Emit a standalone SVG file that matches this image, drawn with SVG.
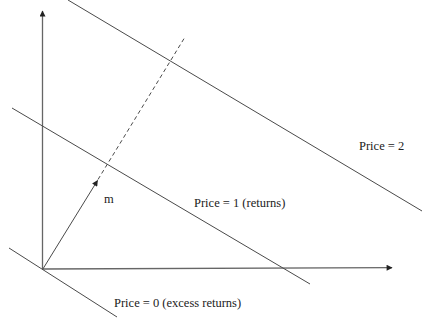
<svg xmlns="http://www.w3.org/2000/svg" width="422" height="326" viewBox="0 0 422 326">
<defs>
<style>
.ln{stroke:#4a4a4a;stroke-width:1;fill:none}
.ax{stroke:#666;stroke-width:1.3;fill:none}
.ds{stroke:#4a4a4a;stroke-width:1;fill:none;stroke-dasharray:4,3}
.tx{font-family:'Liberation Serif',serif;font-size:12.5px;fill:#222}
</style>
<marker id="ah" viewBox="0 0 10 10" refX="9" refY="5" markerWidth="7" markerHeight="6" markerUnits="userSpaceOnUse" orient="auto">
<path d="M0,0 L10,5 L0,10 z" fill="#222"/>
</marker>
</defs>
<rect width="422" height="326" fill="#fff"/>
<g id="axes">
<line class="ax" x1="42.5" y1="269" x2="42.5" y2="11" marker-end="url(#ah)"/>
<line class="ax" x1="42.5" y1="269" x2="392" y2="267.7" marker-end="url(#ah)"/>
</g>
<g id="connectors">
<line class="ln" x1="42.7" y1="269.3" x2="97.5" y2="180.5" marker-end="url(#ah)"/>
<line class="ds" x1="98" y1="179.5" x2="185" y2="37"/>
</g>
<g id="price0">
<line class="ln" x1="9" y1="248" x2="117" y2="317"/>
<text class="tx" font-family="Liberation Serif, serif" x="114" y="307">Price = 0 (excess returns)</text>
</g>
<g id="price1">
<line class="ln" x1="12" y1="108" x2="310" y2="284"/>
<text class="tx" font-family="Liberation Serif, serif" x="194" y="207">Price = 1 (returns)</text>
</g>
<g id="price2">
<line class="ln" x1="68" y1="0" x2="422" y2="211"/>
<text class="tx" font-family="Liberation Serif, serif" x="359" y="150">Price = 2</text>
</g>
<g id="m">
<text class="tx" font-family="Liberation Serif, serif" x="104" y="203">m</text>
</g>
</svg>
